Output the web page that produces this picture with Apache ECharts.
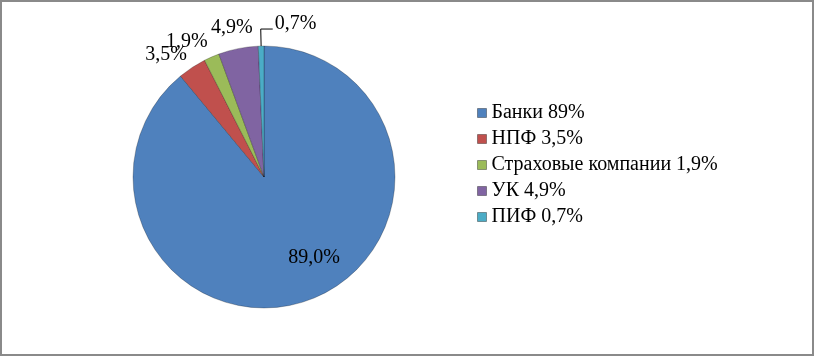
<!DOCTYPE html>
<html>
<head>
<meta charset="utf-8">
<script src="https://cdn.jsdelivr.net/npm/echarts@6/dist/echarts.min.js"></script>
<style>
  html, body { margin: 0; padding: 0; background: #fff; }
  #frame {
    width: 814px; height: 356px; box-sizing: border-box;
    border: 2px solid #8a8a8a; background: #fff;
  }
  #chart { width: 810px; height: 352px; }
</style>
</head>
<body>
<div id="frame"><div id="chart"></div></div>
<script>
// market shares, %
const categories = ['Банки', 'НПФ', 'Страховые компании', 'УК', 'ПИФ']
const shares = [89.0, 3.5, 1.9, 4.9, 0.7]
const colors = ['#4f81bd', '#c0504d', '#9bbb59', '#8064a2', '#4bacc6']

// nudges for labels Excel moved off the slice bisector
const labelShift = [[27, 16], [-14, 6], [-16, 5], [-2, 1], [0, 0]]

const FONT = '"Liberation Serif", "Times New Roman", serif'

const fmt = (v, digits) => (digits ? v.toFixed(digits) : String(v)).replace('.', ',') + '%'

const data = categories.map((name, i) => {
  const item = { name: name, value: shares[i], itemStyle: { color: colors[i] } }
  if (i === 0) item.label = { position: 'inside' }
  if (i === categories.length - 1) {
    item.labelLine = { show: true, length: 17, length2: 11 }
  }
  return item
})

const chart = echarts.init(document.getElementById('chart'))
chart.setOption({
  animation: false,
  textStyle: { fontFamily: FONT },
  legend: {
    orient: 'vertical',
    left: 470,
    top: 93,
    icon: 'rect',
    itemWidth: 9,
    itemHeight: 9,
    itemGap: 0,
    itemStyle: { borderColor: 'rgba(0,0,0,0.35)', borderWidth: 1 },
    textStyle: { fontFamily: FONT, fontSize: 20, color: '#000', lineHeight: 26 },
    formatter: name => name + ' ' + fmt(shares[categories.indexOf(name)])
  },
  series: [{
    type: 'pie',
    center: [262, 175],
    radius: 131,
    startAngle: 90,
    clockwise: true,
    avoidLabelOverlap: false,
    itemStyle: { borderColor: 'rgba(0,0,0,0.3)', borderWidth: 0.8 },
    label: {
      position: 'outside',
      fontFamily: FONT,
      fontSize: 20,
      color: '#000',
      distanceToLabelLine: 0,
      formatter: p => fmt(p.value, 1)
    },
    labelLine: {
      show: false,
      length: 22,
      length2: 0,
      lineStyle: { color: '#000', width: 1 }
    },
    labelLayout: p => {
      const s = labelShift[p.dataIndex]
      if (p.dataIndex === categories.length - 1 && p.labelLinePoints) {
        const pts = p.labelLinePoints
        const bend = pts[1]
        return {
          labelLinePoints: [pts[0], bend, [bend[0] + 12, bend[1]]],
          x: bend[0] + 14,
          y: bend[1] - 5,
          align: 'left',
          verticalAlign: 'middle'
        }
      }
      return { align: 'center', verticalAlign: 'middle', dx: s[0], dy: s[1] }
    },
    data: data
  }]
})
</script>
</body>
</html>
